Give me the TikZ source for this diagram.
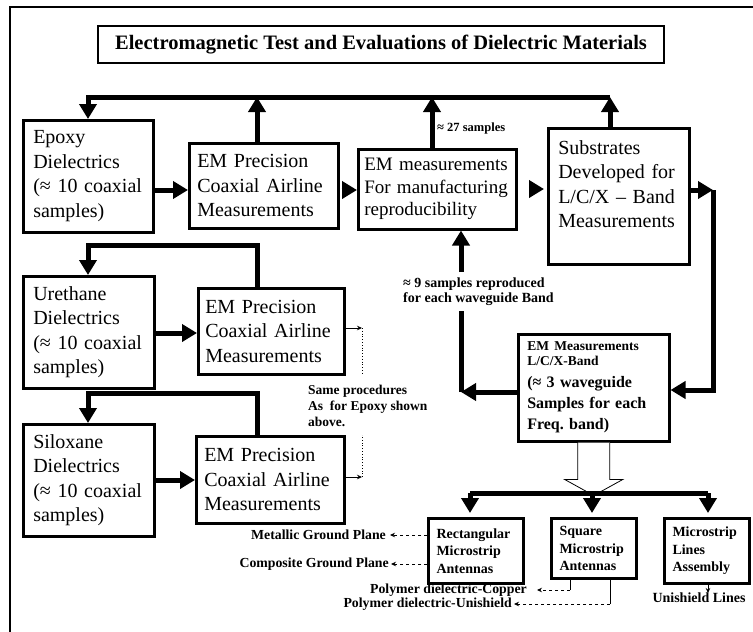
\documentclass[tikz,border=0pt]{standalone}
\usepackage{fontspec}
\setmainfont{Liberation Serif}
\usetikzlibrary{arrows.meta,calc}
\newcommand\mainsz{\fontsize{20}{24.5}\selectfont}
\newcommand\meassz{\fontsize{19}{22.5}\selectfont}
\newcommand\smallb{\fontsize{13.8}{15.5}\selectfont\bfseries}
\newcommand\lcxa{\fontsize{13.5}{15}\selectfont\bfseries}
\newcommand\lcxb{\fontsize{16}{21}\selectfont\bfseries}
\newcommand\botsz{\fontsize{14}{17.5}\selectfont\bfseries}
\begin{document}
\begin{tikzpicture}[x=1pt,y=-1pt,
  mbox/.style={draw, line width=2.5pt, align=left, anchor=north west, font=\mainsz, inner ysep=0pt},
  bbox/.style={draw, line width=3pt, align=left, anchor=north west, font=\botsz, inner ysep=0pt},
  bigline/.style={line width=5pt, line join=miter},
  bigarrow/.style={line width=5pt, line join=miter, -{Triangle[width=17pt,length=15pt]}},
  smallarrow/.style={line width=0.8pt, -{Stealth[length=5pt,width=4.5pt]}},
  dasharrow/.style={line width=0.8pt, dashed, -{Stealth[length=5pt,width=4.5pt]}},
  lbl/.style={inner sep=0pt, align=left, font=\smallb}]
\useasboundingbox (0,0) rectangle (753,632);
% outer frame
\draw[line width=1.5pt] (10,632) -- (10,7) -- (753,7);
% title
\node[draw, line width=2.5pt, minimum width=566pt, minimum height=37pt,
  font=\fontsize{20.5}{24}\selectfont\bfseries] (title) at (381,44.5)
  {Electromagnetic Test and Evaluations of Dielectric Materials};
% main boxes
\node[mbox, text width=110pt, inner xsep=10pt, minimum height=112pt] (epoxy) at (22,119)
  {Epoxy\\Dielectrics\\(≈ 10 coaxial\\samples)};
\node[mbox, text width=133pt, inner xsep=8pt, minimum height=85pt] (emp1) at (188,142)
  {EM Precision\\Coaxial Airline\\Measurements};
\node[mbox, font=\meassz, text width=146pt, inner xsep=6pt, minimum height=80pt] (emmeas) at (357,148)
  {EM measurements\\For manufacturing\\reproducibility};
\node[mbox, text width=121pt, inner xsep=10pt, minimum height=136pt] (subs) at (547,127)
  {Substrates\\Developed for\\L/C/X -- Band\\Measurements\\\mbox{}};
\node[mbox, text width=111pt, inner xsep=10pt, minimum height=112pt] (ureth) at (22,275)
  {Urethane\\Dielectrics\\(≈ 10 coaxial\\samples)};
\node[mbox, text width=132pt, inner xsep=7pt, minimum height=86pt] (emp2) at (197,287)
  {EM Precision\\Coaxial Airline\\Measurements};
\node[mbox, text width=111pt, inner xsep=10pt, minimum height=112pt] (silox) at (22,423)
  {Siloxane\\Dielectrics\\(≈ 10 coaxial\\samples)};
\node[mbox, text width=132pt, inner xsep=8pt, minimum height=87pt] (emp3) at (195,435)
  {EM Precision\\Coaxial Airline\\Measurements};
\node[mbox, font=\lcxb, text width=133pt, inner xsep=9pt, minimum height=107pt] (lcx) at (517,333)
  {{\lcxa EM Measurements}\\[-6pt]{\lcxa L/C/X-Band}\\[1pt](≈ 3 waveguide\\Samples for each\\Freq.\ band)};
\node[bbox, text width=79pt, inner xsep=8pt, minimum height=65pt] (rect) at (427,517)
  {Rectangular\\Microstrip\\Antennas};
\node[bbox, text width=69pt, inner xsep=8pt, minimum height=60pt] (square) at (550,517)
  {Square\\Microstrip\\Antennas};
\node[bbox, text width=69pt, inner xsep=8pt, minimum height=65pt] (mlines) at (663,517)
  {Microstrip\\Lines\\Assembly};
% labels
\node[lbl, anchor=west, font=\fontsize{12.5}{14}\selectfont\bfseries] (s27) at (437,128) {≈ 27 samples};
\node[lbl, anchor=west, inner ysep=5pt, font=\fontsize{14}{15.5}\selectfont\bfseries] (s9) at (403,291.5) {≈ 9 samples reproduced\\for each waveguide Band};
\node[lbl, anchor=west, font=\fontsize{13.5}{16}\selectfont\bfseries] (same) at (308,406) {Same procedures\\As\ \ for Epoxy shown\\above.};
\node[lbl, anchor=east] (metal) at (386,535) {Metallic Ground Plane};
\node[lbl, anchor=east] (comp) at (389,564) {Composite Ground Plane};
\node[lbl, anchor=east] (pcu) at (527,590) {Polymer dielectric-Copper};
\node[lbl, anchor=east] (puni) at (512,604) {Polymer dielectric-Unishield};
\node[lbl, anchor=north, font=\fontsize{14}{16}\selectfont\bfseries] (uni) at (699,593) {Unishield Lines};
% top bus
\coordinate (t1) at (88,97);
\coordinate (t2) at (257,97);
\coordinate (t3) at (432,97);
\coordinate (t4) at (610,97);
\draw[bigarrow] (t4) -- (t1) -- (t1 |- epoxy.north);
\draw[bigarrow] (t2 |- emp1.north) -- (t2);
\draw[bigarrow] (t3 |- emmeas.north) -- (t3);
\draw[bigarrow] (t4 |- subs.north) -- (t4);
% horizontal flow
\draw[bigarrow] (epoxy.east |- 0,190) -- (emp1.west |- 0,190);
\draw[bigarrow, shorten <=2pt] (emp1.east |- 0,190) -- (emmeas.west |- 0,190);
\draw[bigarrow, shorten <=13pt, shorten >=3pt] (emmeas.east |- 0,189) -- (subs.west |- 0,189);
\draw[bigarrow] (ureth.east |- 0,333) -- (emp2.west |- 0,333);
\draw[bigarrow] (silox.east |- 0,480) -- (emp3.west |- 0,480);
% urethane / siloxane feedback
\draw[bigarrow] (t2 |- emp2.north) -- (257,245) -- (88,245) -- (t1 |- ureth.north);
\draw[bigarrow] (t2 |- emp3.north) -- (257,393) -- (88,393) -- (t1 |- silox.north);
% same procedures pointers
\coordinate (d2) at (362,328);
\coordinate (d3) at (362,477);
\draw[smallarrow] (emp2.east |- d2) -- (d2);
\draw[line width=0.8pt, dotted] (d2) -- ++(0,45);
\draw[smallarrow] (emp3.east |- d3) -- (d3);
\draw[line width=0.8pt, dotted] (d3) -- ++(0,-42);
% substrates -> L/C/X
\coordinate (rc) at (713,190);
\draw[bigarrow] (subs.east |- rc) -- (rc);
\draw[bigarrow] (rc) -- (rc |- 0,390) -- (lcx.east |- 0,390);
% L/C/X -> EM measurements
\coordinate (lc) at (461,392);
\draw[bigarrow] (lcx.west |- lc) -- (lc);
\draw[bigline] (lc) -- (lc |- s9.south);
\draw[bigarrow] (lc |- s9.north) -- (lc |- emmeas.south);
% block arrow
\draw[line width=0.8pt, fill=white] ($(lcx.south)+(-16,0)$) -- ++(0,37) -- ++(-13,0)
  -- ($(lcx.south)+(0,53)$) -- ($(lcx.south)+(29,37)$) -- ++(-13,0) -- ++(0,-37);
% bottom bus
\coordinate (b1) at (470,493);
\coordinate (b2) at (592,493);
\coordinate (b3) at (708,493);
\draw[bigline] (b1) -- (b3);
\draw[bigarrow, shorten >=4pt] (b1) -- (b1 |- rect.north);
\draw[bigarrow, shorten >=4pt] (b2) -- (b2 |- square.north);
\draw[bigarrow, shorten >=4pt] (b3) -- (b3 |- mlines.north);
% dashed outputs
\draw[dasharrow, shorten >=4pt] (rect.west |- metal) -- (metal.east);
\draw[dasharrow, shorten >=2pt] (rect.west |- comp) -- (comp.east);
\draw[line width=0.8pt] (570,577) -- (570,590);
\draw[dasharrow, shorten >=10pt] (570,590) -- (pcu.east);
\draw[line width=0.8pt] (610,577) -- (610,604);
\draw[dasharrow, shorten >=2pt] (610,604) -- (puni.east);
\draw[smallarrow] (b3 |- mlines.south) -- (b3 |- uni.north);
\end{tikzpicture}
\end{document}
